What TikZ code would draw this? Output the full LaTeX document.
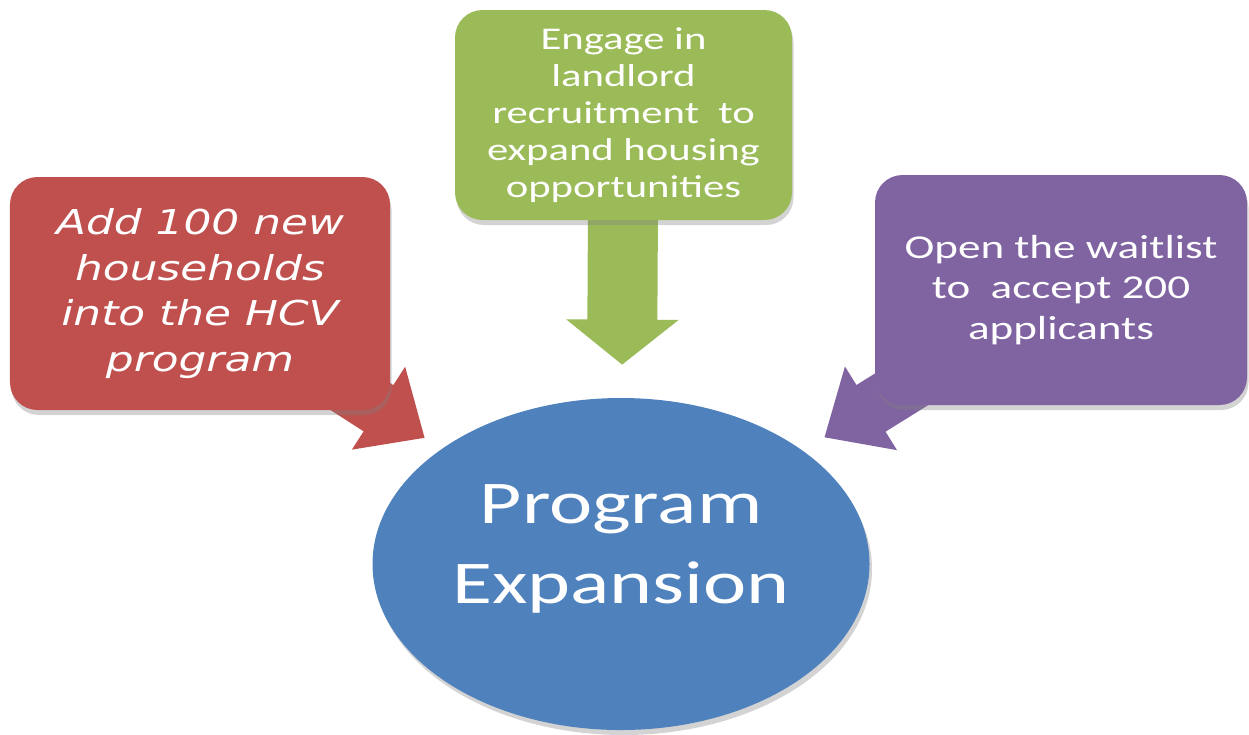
\documentclass[tikz,border=0pt]{standalone}
\usepackage{fontspec}
\usepackage{xcolor}
\usetikzlibrary{arrows.meta,shadows,backgrounds,shapes.geometric}

\newfontfamily\boxfont[FakeStretch=1.35]{Carlito}
\newfontfamily\slantfont[FakeStretch=1.28]{DejaVu Sans}

\definecolor{redbox}{HTML}{C0504D}
\definecolor{greenbox}{HTML}{9BBB59}
\definecolor{purplebox}{HTML}{8064A2}
\definecolor{bluehub}{HTML}{4F81BD}

\tikzset{
  goalbox/.style={rounded corners=0.55cm, text=white, align=center,
    drop shadow={shadow xshift=0.03cm, shadow yshift=-0.1cm, opacity=0.35}},
  fatarrow/.style={line width=1.1cm, -{Triangle[length=1.1cm,width=1.9cm]}}
}

\begin{document}
\begin{tikzpicture}

\useasboundingbox (0,0) rectangle (24.98,-14.68);

\node [ellipse, fill=bluehub, minimum width=9.94cm, minimum height=6.64cm,
  drop shadow={shadow xshift=0.05cm, shadow yshift=-0.1cm, opacity=0.35}] (hub) at (12.42,-11.28) {};
\node [text=white, align=center, font=\boxfont\fontsize{34.5}{46}\selectfont] (hubtext)
  at ([yshift=0.3cm]hub.center) {Program\\Expansion};

\node [goalbox, fill=redbox, minimum width=7.6cm, minimum height=4.66cm,
  font=\slantfont\itshape\fontsize{19.5}{26}\selectfont] (addbox) at (4.0,-5.87)
  {Add 100 new\\households\\into the HCV\\program};
\node [goalbox, fill=greenbox, minimum width=6.74cm, minimum height=4.2cm,
  font=\boxfont\fontsize{18}{21}\selectfont] (engbox) at (12.47,-2.3)
  {Engage in\\landlord\\recruitment\ \ to\\expand housing\\opportunities};
\node [goalbox, fill=purplebox, minimum width=7.44cm, minimum height=4.6cm,
  font=\boxfont\fontsize{19}{23}\selectfont] (waitbox) at (21.22,-5.8)
  {Open the waitlist\\to\ \ accept 200\\applicants};

\begin{scope}[on background layer]
\draw [fatarrow, redbox, shorten >=0.4cm] (addbox.center) -- (hub);
\draw [fatarrow, greenbox, line width=1.4cm, -{Triangle[length=0.9cm,width=2.2cm]}, shorten >=0.66cm] (engbox.center) -- (hub);
\draw [fatarrow, purplebox, shorten >=0.5cm] (waitbox.center) -- (hub);
\end{scope}

\end{tikzpicture}
\end{document}
